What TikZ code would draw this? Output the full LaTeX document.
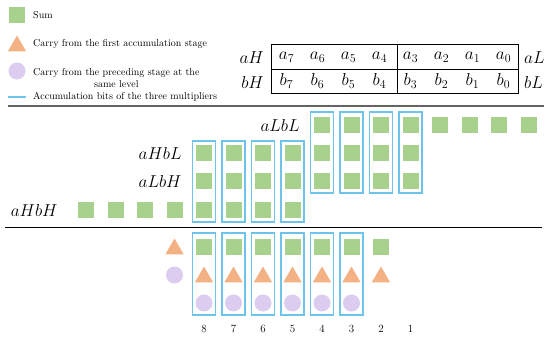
\documentclass[tikz,border=0pt]{standalone}
\usepackage{amsmath}
\usetikzlibrary{shapes.geometric, positioning}
\definecolor{sumgreen}{RGB}{169, 209, 142}
\definecolor{carryorange}{RGB}{244, 177, 131}
\definecolor{carrypurple}{RGB}{220, 204, 240}
\definecolor{accblue}{RGB}{110, 195, 235}
\definecolor{rulegray}{RGB}{100, 100, 100}

\begin{document}
\begin{tikzpicture}[
  x=1pt, y=-1pt,
  sbit/.style={fill=sumgreen, minimum size=16pt, inner sep=0pt},
  tbit/.style={regular polygon, regular polygon sides=3, fill=carryorange, minimum size=21pt, inner sep=0pt},
  cbit/.style={circle, fill=carrypurple, minimum size=17pt, inner sep=0pt},
  abox/.style={draw=accblue, line width=1.3pt, minimum width=23pt, minimum height=81pt, inner sep=0pt},
  legtxt/.style={font=\fontsize{10}{12}\selectfont, anchor=west, inner sep=0pt},
  mlab/.style={font=\fontsize{16}{19}\selectfont, inner sep=0pt},
  cell/.style={font=\fontsize{17}{20}\selectfont, inner sep=0pt},
  numlab/.style={font=\fontsize{11}{13}\selectfont, inner sep=0pt}
]
  \useasboundingbox (0,0) rectangle (550,340);

  \node[sbit] (legS) at (17,15) {};
  \node[legtxt] (legSt) at (33,15) {Sum};
  \node[tbit] (legT) at (17,46) {};
  \node[legtxt] (legTt) at (33,44) {Carry from the first accumulation stage};
  \node[cbit] (legC) at (17,71) {};
  \node[legtxt, align=center] (legCt) at (33,78) {Carry from the preceding stage at the\\same level};
  \coordinate (legA1) at (8,97);
  \coordinate (legA2) at (26,97);
  \draw[accblue, line width=1.5pt] (legA1) -- (legA2);
  \node[legtxt] (legAt) at (33,97) {Accumulation bits of the three multipliers};

  \draw (271,44) rectangle (518,93);
  \draw (271,69) -- (518,69);
  \draw (397,44) -- (397,93);
  \foreach \i in {0,...,7} {
    \pgfmathtruncatemacro\b{7-\i}
    \node[cell] (ca\b) at ({286.5+31*\i},57) {$a_{\b}$};
    \node[cell] (cb\b) at ({286.5+31*\i},81) {$b_{\b}$};
  }
  \node[mlab, anchor=east] (aH) at (264,58) {$aH$};
  \node[mlab, anchor=east] (bH) at (264,82) {$bH$};
  \node[mlab, anchor=west] (aL) at (524,58) {$aL$};
  \node[mlab, anchor=west] (bL) at (524,82) {$bL$};

  \draw[rulegray, line width=2pt] (8,106) -- (544,106);

  \foreach \k in {9,...,16}
    \node[sbit] (ll\k) at ({86+29.5*(\k-1)},125) {};
  \foreach \k in {5,...,12} {
    \node[sbit] (hl\k) at ({86+29.5*(\k-1)},153) {};
    \node[sbit] (lh\k) at ({86+29.5*(\k-1)},181) {};
  }
  \foreach \k in {1,...,8}
    \node[sbit] (hh\k) at ({86+29.5*(\k-1)},210) {};
  \foreach \k in {9,...,12}
    \node[abox] (bxl\k) at ({86+29.5*(\k-1)},152.5) {};
  \foreach \k in {5,...,8}
    \node[abox] (bxh\k) at ({86+29.5*(\k-1)},181.5) {};

  \node[mlab, anchor=east, left=14pt of ll9] (aLbL) {$aLbL$};
  \node[mlab, anchor=east, left=14pt of hl5] (aHbL) {$aHbL$};
  \node[mlab, anchor=east, left=14pt of lh5] (aLbH) {$aLbH$};
  \node[mlab, anchor=east, left=20pt of hh1] (aHbH) {$aHbH$};

  \draw[line width=0.9pt] (5,227) -- (542,227);

  \node[tbit] (t4) at (174.5,249) {};
  \node[cbit] (c4) at (174.5,275) {};
  \foreach \k in {5,...,11} {
    \node[sbit] (s\k) at ({86+29.5*(\k-1)},247) {};
    \node[tbit] (t\k) at ({86+29.5*(\k-1)},277) {};
  }
  \foreach \k in {5,...,10} {
    \node[cbit] (c\k) at ({86+29.5*(\k-1)},303) {};
    \node[abox, minimum height=82pt] (bx\k) at ({86+29.5*(\k-1)},274) {};
  }
  \foreach \k in {5,...,12} {
    \pgfmathtruncatemacro\n{13-\k}
    \node[numlab] (n\k) at ({86+29.5*(\k-1)},329) {\n};
  }
\end{tikzpicture}
\end{document}
